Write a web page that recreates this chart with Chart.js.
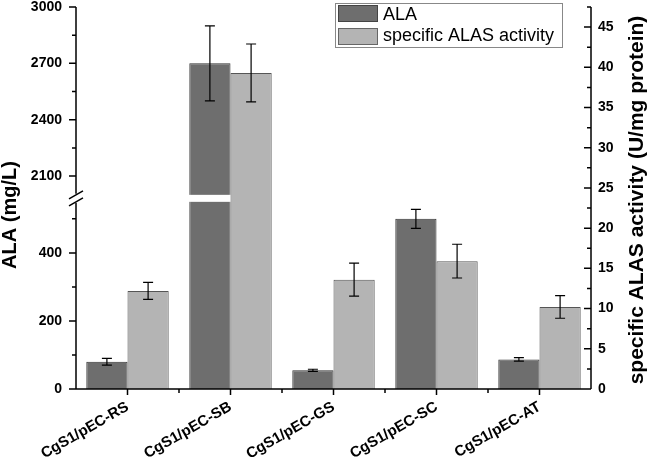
<!DOCTYPE html>
<html>
<head>
<meta charset="utf-8">
<script src="https://cdn.jsdelivr.net/npm/chart.js@4.4.0/dist/chart.umd.min.js"></script>
<style>
  body { margin: 0; background: #fff; }
  canvas { display: block; }
</style>
</head>
<body>
<canvas id="canvas" width="650" height="469"></canvas>
<script>
// ALA 生産量と ALAS 比活性の棒グラフ (左軸は途中を省略)

var strains = ['CgS1/pEC-RS', 'CgS1/pEC-SB', 'CgS1/pEC-GS', 'CgS1/pEC-SC', 'CgS1/pEC-AT'];
var ala = [80, 2700, 55, 500, 87];              // mg/L
var alaErr = [10, 200, 3, 28, 5];
var activity = [12.2, 39.3, 13.6, 15.9, 10.2];  // U/mg protein
var activityErr = [1.05, 3.6, 2.05, 2.1, 1.4];

var leftTicks = [0, 200, 400, 2100, 2400, 2700, 3000];
var leftMinor = [100, 300, 500, 2250, 2550, 2850];
var rightTicks = [0, 5, 10, 15, 20, 25, 30, 35, 40, 45];
var rightMinor = [2.5, 7.5, 12.5, 17.5, 22.5, 27.5, 32.5, 37.5, 42.5, 47.5];
var rightMax = 47.5;

// 軸の省略: 0-550 と 2000-3000
var lowTop = 550, highBottom = 2000, highTop = 3000;
var gapUnits = 20.6;
var highScale = 0.552;

function toAxis(v) {
  if (v <= lowTop) return v;
  return lowTop + gapUnits + (v - highBottom) * highScale;
}

var FONT = "'Liberation Sans', Arial, sans-serif";
var darkFill = '#6e6e6e', lightFill = '#b4b4b4';

function drawErr(ctx, meta, vals, errs, px) {
  ctx.strokeStyle = '#000';
  ctx.lineWidth = 1.2;
  meta.data.forEach(function(bar, i) {
    var t = px(vals[i] + errs[i]), b = px(vals[i] - errs[i]);
    ctx.beginPath();
    ctx.moveTo(bar.x, t); ctx.lineTo(bar.x, b);
    ctx.moveTo(bar.x - 5, t); ctx.lineTo(bar.x + 5, t);
    ctx.moveTo(bar.x - 5, b); ctx.lineTo(bar.x + 5, b);
    ctx.stroke();
  });
}

var extras = {
  id: 'extras',
  afterDatasetsDraw: function(chart) {
    var ctx = chart.ctx;
    var y = chart.scales.y, y1 = chart.scales.y1;
    var gTop = y.getPixelForValue(lowTop + gapUnits), gBot = y.getPixelForValue(lowTop);
    ctx.save();
    // 省略部分で棒を切る
    chart.getDatasetMeta(0).data.forEach(function(bar, i) {
      if (ala[i] > lowTop) {
        ctx.fillStyle = '#fff';
        ctx.fillRect(bar.x - bar.width / 2 - 1, gTop, bar.width + 1, gBot - gTop);
      }
    });
    drawErr(ctx, chart.getDatasetMeta(0), ala, alaErr, function(v) { return y.getPixelForValue(toAxis(v)); });
    drawErr(ctx, chart.getDatasetMeta(1), activity, activityErr, function(v) { return y1.getPixelForValue(v); });
    ctx.restore();
  },
  afterDraw: function(chart) {
    var ctx = chart.ctx, a = chart.chartArea;
    var x = chart.scales.x, y = chart.scales.y, y1 = chart.scales.y1;
    var gTop = y.getPixelForValue(lowTop + gapUnits), gBot = y.getPixelForValue(lowTop);
    ctx.save();
    ctx.strokeStyle = '#000';
    ctx.lineWidth = 1.5;
    ctx.beginPath();
    // 軸線
    ctx.moveTo(a.left, a.bottom); ctx.lineTo(a.right, a.bottom);
    ctx.moveTo(a.left, a.top); ctx.lineTo(a.left, gTop - 1);
    ctx.moveTo(a.left, gBot + 1); ctx.lineTo(a.left, a.bottom);
    ctx.moveTo(a.right, a.top); ctx.lineTo(a.right, a.bottom);
    // 目盛り
    leftTicks.forEach(function(v) {
      var p = y.getPixelForValue(toAxis(v));
      ctx.moveTo(a.left - 7, p); ctx.lineTo(a.left, p);
    });
    leftMinor.forEach(function(v) {
      var p = y.getPixelForValue(toAxis(v));
      ctx.moveTo(a.left - 4, p); ctx.lineTo(a.left, p);
    });
    rightTicks.forEach(function(v) {
      var p = y1.getPixelForValue(v);
      ctx.moveTo(a.right - 7, p); ctx.lineTo(a.right, p);
    });
    rightMinor.forEach(function(v) {
      var p = y1.getPixelForValue(v);
      ctx.moveTo(a.right - 4, p); ctx.lineTo(a.right, p);
    });
    strains.forEach(function(s, i) {
      var p = x.getPixelForValue(i);
      ctx.moveTo(p, a.bottom); ctx.lineTo(p, a.bottom + 6);
      if (i > 0) {
        var m = (p + x.getPixelForValue(i - 1)) / 2;
        ctx.moveTo(m, a.bottom); ctx.lineTo(m, a.bottom + 4);
      }
    });
    ctx.stroke();
    // 省略記号
    ctx.beginPath();
    [gTop, gBot].forEach(function(p) {
      ctx.moveTo(a.left - 7, p + 4); ctx.lineTo(a.left + 7, p - 4);
    });
    ctx.stroke();

    // 軸タイトル
    ctx.fillStyle = '#000';
    ctx.textAlign = 'center';
    ctx.textBaseline = 'middle';
    ctx.font = 'bold 20px ' + FONT;
    ctx.save();
    ctx.translate(10, 215);
    ctx.rotate(-Math.PI / 2);
    ctx.fillText('ALA (mg/L)', 0, 0);
    ctx.restore();
    ctx.font = 'bold 21px ' + FONT;
    ctx.save();
    ctx.translate(637, 200);
    ctx.rotate(-Math.PI / 2);
    ctx.fillText('specific ALAS activity (U/mg protein)', 0, 0);
    ctx.restore();

    // 凡例
    ctx.lineWidth = 1;
    ctx.strokeStyle = '#888';
    ctx.strokeRect(335.5, 3.5, 227, 44);
    ctx.fillStyle = darkFill;
    ctx.fillRect(338, 5, 40, 17);
    ctx.strokeStyle = '#444';
    ctx.strokeRect(338.5, 5.5, 39, 16);
    ctx.fillStyle = lightFill;
    ctx.fillRect(338, 28, 40, 17);
    ctx.strokeStyle = '#666';
    ctx.strokeRect(338.5, 28.5, 39, 16);
    ctx.fillStyle = '#000';
    ctx.textAlign = 'left';
    ctx.textBaseline = 'alphabetic';
    ctx.font = '18px ' + FONT;
    ctx.fillText(chart.data.datasets[0].label, 383, 20);
    ctx.fillText(chart.data.datasets[1].label, 383, 41);
    ctx.restore();
  }
};

var tickFont = { family: FONT, size: 14, weight: 'bold' };

new Chart(document.getElementById('canvas'), {
  type: 'bar',
  data: {
    labels: strains,
    datasets: [
      {
        label: 'ALA',
        data: ala.map(toAxis),
        yAxisID: 'y',
        backgroundColor: darkFill,
        borderColor: '#333',
        borderWidth: 1
      },
      {
        label: 'specific ALAS activity',
        data: activity,
        yAxisID: 'y1',
        backgroundColor: lightFill,
        borderColor: '#555',
        borderWidth: 1
      }
    ]
  },
  options: {
    responsive: false,
    animation: false,
    devicePixelRatio: 1,
    layout: { padding: { top: 7, left: 0, right: 0, bottom: 0 } },
    datasets: { bar: { categoryPercentage: 0.8, barPercentage: 1.0 } },
    plugins: { legend: { display: false }, tooltip: { enabled: false } },
    scales: {
      x: {
        grid: { display: false, drawTicks: false },
        border: { display: false },
        ticks: {
          font: { family: FONT, size: 15, weight: 'bold' },
          color: '#000', minRotation: 30, maxRotation: 30, padding: 9, autoSkip: false
        },
        afterFit: function(s) { s.height = 80; s.paddingLeft = 0; s.paddingRight = 0; }
      },
      y: {
        position: 'left',
        min: 0,
        max: toAxis(highTop),
        grid: { display: false, drawTicks: false },
        border: { display: false },
        afterBuildTicks: function(s) {
          s.ticks = leftTicks.map(function(v) { return { value: toAxis(v) }; });
        },
        ticks: {
          font: tickFont, color: '#000', padding: 14, autoSkip: false,
          callback: function(val, i) { return leftTicks[i]; }
        },
        afterFit: function(s) { s.width = 76; s.paddingTop = 0; s.paddingBottom = 0; }
      },
      y1: {
        position: 'right',
        min: 0,
        max: rightMax,
        grid: { display: false, drawTicks: false },
        border: { display: false },
        afterBuildTicks: function(s) {
          s.ticks = rightTicks.map(function(v) { return { value: v }; });
        },
        ticks: {
          font: tickFont, color: '#000', padding: 7, autoSkip: false,
          callback: function(val, i) { return rightTicks[i]; }
        },
        afterFit: function(s) { s.width = 59; s.paddingTop = 0; s.paddingBottom = 0; }
      }
    }
  },
  plugins: [extras]
});
</script>
</body>
</html>
